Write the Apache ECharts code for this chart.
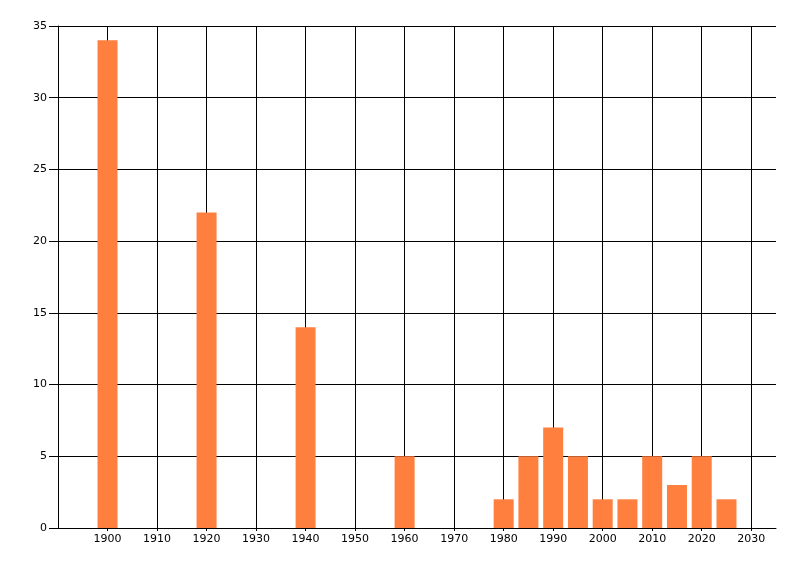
<!DOCTYPE html>
<html>
<head>
<meta charset="utf-8">
<script src="https://cdn.jsdelivr.net/npm/echarts@6/dist/echarts.min.js"></script>
<style>html,body{margin:0;padding:0;background:#fff;}#c{width:800px;height:576px;}</style>
</head>
<body>
<div id="c"></div>
<script>
var years = [1900, 1920, 1940, 1960, 1980, 1985, 1990, 1995, 2000, 2005, 2010, 2015, 2020, 2025];
var counts = [34, 22, 14, 5, 2, 5, 7, 5, 2, 2, 5, 3, 5, 2];
var xMin = 1890, xMax = 2035, xStep = 10, xLastTick = 2030;
var yMin = 0, yMax = 35, yStep = 5;

var data = years.map(function (y, i) { return [y, counts[i]]; });
var gridYears = [];
for (var v = xMin + xStep; v <= xLastTick; v += xStep) gridYears.push({xAxis: v});

var chart = echarts.init(document.getElementById('c'), null, {renderer: 'canvas'});
var font = 'Tahoma, "DejaVu Sans", sans-serif';
chart.setOption({
  animation: false,
  backgroundColor: '#fff',
  grid: {left: 58, right: 24, top: 26, bottom: 48, containLabel: false},
  xAxis: {
    type: 'value', min: xMin, max: xMax, interval: xStep,
    axisLine: {show: true, onZero: false, lineStyle: {color: '#000', width: 1}},
    axisTick: {show: true, length: 3, lineStyle: {color: '#000'}},
    axisLabel: {color: '#000', fontSize: 11, fontFamily: font, margin: 6,
      showMinLabel: false, showMaxLabel: false,
      formatter: function (v) { return String(v); }},
    splitLine: {show: false}
  },
  yAxis: {
    type: 'value', min: yMin, max: yMax, interval: yStep,
    axisLine: {show: true, lineStyle: {color: '#000', width: 1}},
    axisTick: {show: true, length: 9, lineStyle: {color: '#000'}},
    axisLabel: {color: '#000', fontSize: 11, fontFamily: font, margin: 11},
    splitLine: {show: true, lineStyle: {color: '#000', width: 1}}
  },
  series: [{
    type: 'scatter',
    data: data,
    symbolSize: 0,
    silent: true,
    z: 1,
    markLine: {
      silent: true,
      z: 1,
      symbol: ['none', 'none'],
      label: {show: false},
      lineStyle: {color: '#000', width: 1, type: 'solid'},
      data: gridYears
    }
  }, {
    type: 'bar',
    data: data,
    barWidth: 20,
    itemStyle: {color: '#FF7F3F'},
    z: 3
  }]
});
</script>
</body>
</html>
